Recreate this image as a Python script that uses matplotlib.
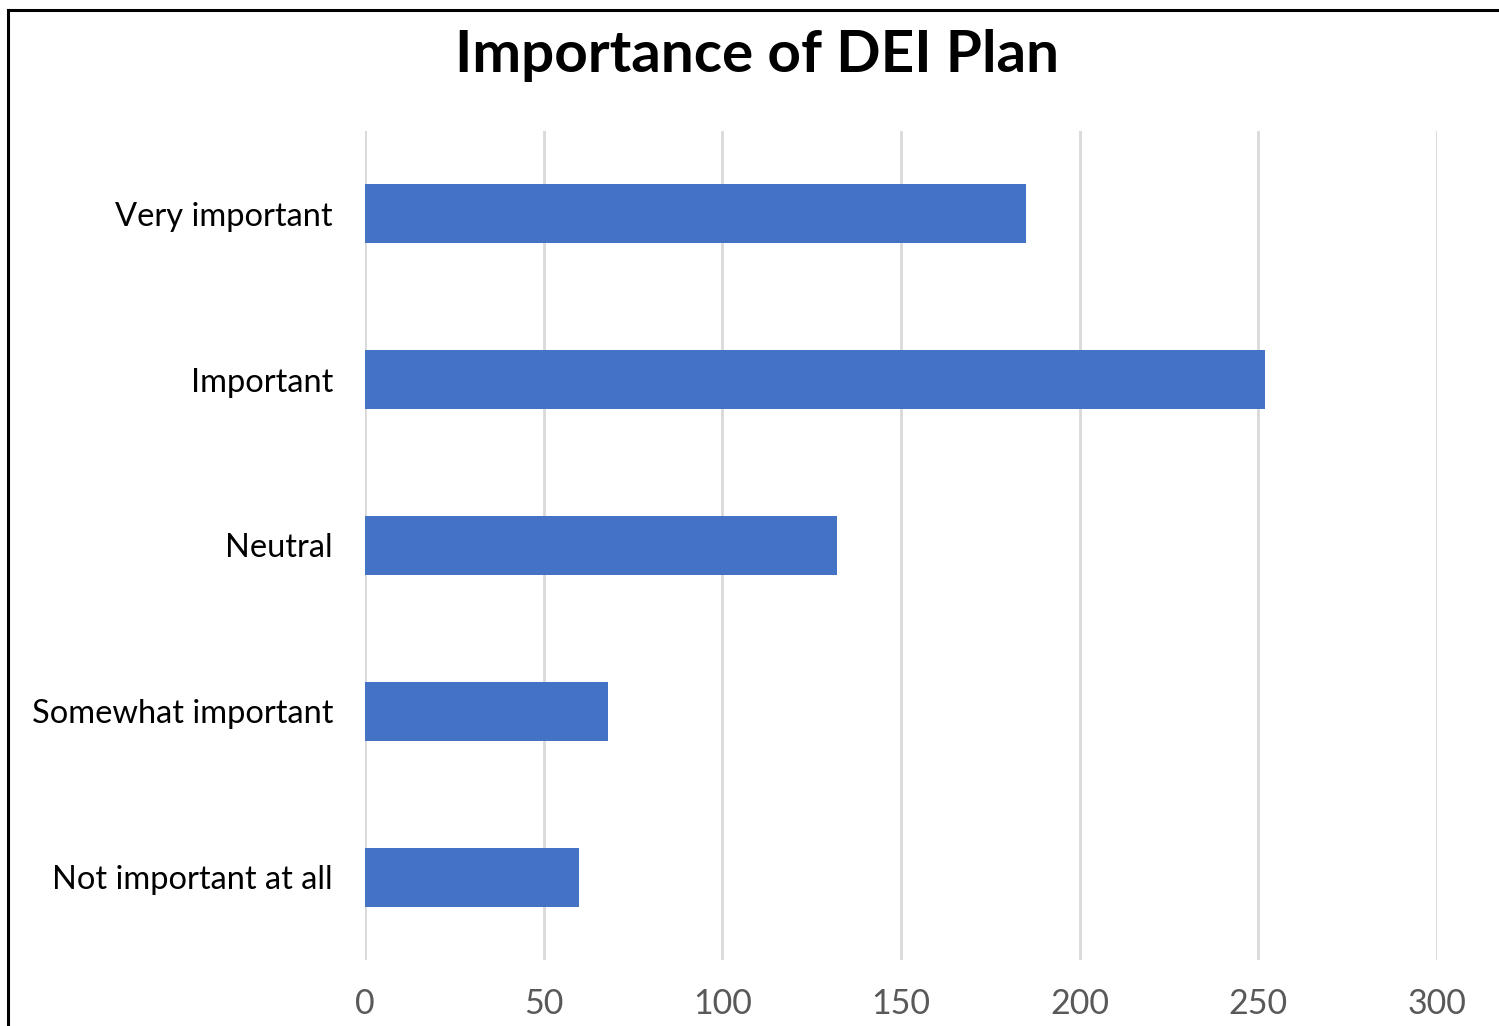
import matplotlib.pyplot as plt
from matplotlib.lines import Line2D

categories = ['Very important', 'Important', 'Neutral', 'Somewhat important', 'Not important at all']
counts = [185, 252, 132, 68, 60]
xticks = [0, 50, 100, 150, 200, 250, 300]

plt.rcParams['font.family'] = ['Lato', 'DejaVu Sans']

fig = plt.figure(figsize=(14.99, 10.26), dpi=100)
ax = fig.add_axes([365 / 1499, 1 - 960 / 1026, (1437 - 365) / 1499, (960 - 131) / 1026])

ypos = list(range(len(categories)))
ax.barh(ypos, counts, height=0.355, color='#4472C4', zorder=3)

ax.set_ylim(len(categories) - 0.5, -0.5)
ax.set_xlim(0, 300)
ax.set_xticks(xticks)
ax.set_xticklabels([str(t) for t in xticks], fontsize=24.5, color='#595959')
ax.set_yticks(ypos)
ax.set_yticklabels(categories, fontsize=23.5, color='black')
ax.tick_params(axis='both', length=0)
ax.tick_params(axis='y', pad=23)
ax.tick_params(axis='x', pad=20)

ax.grid(axis='x', color='#d9d9d9', linewidth=2, zorder=0)
for s in ax.spines.values():
    s.set_visible(False)

fig.text(757 / 1499, 1 - 55 / 1026, 'Importance of DEI Plan', ha='center', va='center',
         fontsize=42, fontweight='bold', color='black')

# frame of the chart (cropped on right and bottom)
fig.add_artist(Line2D([8 / 1499, 8 / 1499], [0, 1 - 10 / 1026], color='black', linewidth=2.2,
                      transform=fig.transFigure))
fig.add_artist(Line2D([8 / 1499, 1], [1 - 10 / 1026, 1 - 10 / 1026], color='black', linewidth=2.2,
                      transform=fig.transFigure))

fig.savefig('out.png', dpi=100, facecolor='white')
